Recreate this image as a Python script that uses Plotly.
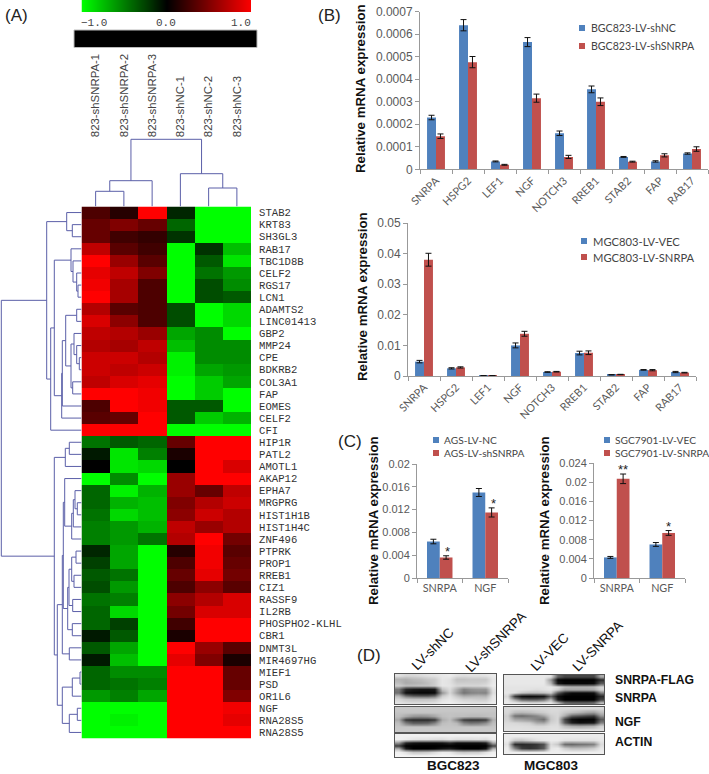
import plotly.graph_objects as go

W, H = 709, 774

# ---------- (A) heat map ----------
samples = ["823-shSNRPA-1", "823-shSNRPA-2", "823-shSNRPA-3", "823-shNC-1", "823-shNC-2", "823-shNC-3"]
genes = ["STAB2", "KRT83", "SH3GL3", "RAB17", "TBC1D8B", "CELF2", "RGS17", "LCN1", "ADAMTS2", "LINC01413",
         "GBP2", "MMP24", "CPE", "BDKRB2", "COL3A1", "FAP", "EOMES", "CELF2", "CFI", "HIP1R", "PATL2", "AMOTL1",
         "AKAP12", "EPHA7", "MRGPRG", "HIST1H1B", "HIST1H4C", "ZNF496", "PTPRK", "PROP1", "RREB1", "CIZ1",
         "RASSF9", "IL2RB", "PHOSPHO2-KLHL", "CBR1", "DNMT3L", "MIR4697HG", "MIEF1", "PSD", "OR1L6", "NGF",
         "RNA28S5", "RNA28S5"]
heat = [
    [.3, .15, 1, -.15, -1, -1], [.4, .5, .4, -.4, -1, -1], [.4, .25, .2, -.2, -1, -1],
    [.75, .35, .25, -1, -.2, -.75], [1, .6, .35, -1, -.35, -.9], [.9, .75, .5, -1, -.45, -.6],
    [.95, .65, .3, -1, -.3, -.55], [1, .65, .3, -1, -.3, -.35], [.7, .35, .3, -.3, -1, -.85],
    [.85, .55, .3, -.3, -1, -.85], [.75, .7, .6, -.65, -.55, -1], [.7, .65, .75, -.75, -.55, -.55],
    [.8, .8, .7, -.95, -.55, -.55], [.8, .75, .8, -.95, -.65, -.6], [.75, .85, .9, -1, -.8, -.65],
    [1, 1, .95, -1, -.8, -1], [.3, 1, .95, -.35, -.35, -1], [.35, .4, 1, -.35, -.8, -.7],
    [1, 1, 1, -1, -1, -1], [-.45, -.35, -.4, .4, 1, 1], [-.1, -.9, -.5, .1, 1, 1],
    [0, -.9, -.85, 0, 1, .85], [-1, -.55, -1, .6, 1, 1], [-.4, -.95, -.7, .6, .4, .75],
    [-.4, -.7, -.75, .5, .7, .8], [-.45, -.85, -.75, .55, .8, .7], [-.5, -.6, -.7, .75, .6, .7],
    [-.5, -.6, -.45, .7, 1, .45], [-.15, -.65, -1, .15, .95, .35], [-.25, -.65, -1, .3, .95, .4],
    [-.35, -.45, -1, .4, .9, .45], [-.3, -.6, -1, .3, .55, .35], [-.45, -.5, -1, .55, .7, .85],
    [-.4, -.85, -1, .45, .85, .85], [-.4, -.25, -1, .25, 1, 1], [-.1, -.35, -1, .1, 1, 1],
    [-.35, -.65, -1, 1, .6, .35], [-.1, -.75, -1, .9, .5, .1], [-.4, -.55, -.55, 1, 1, .4],
    [-.4, -.45, -.5, 1, 1, .4], [-.6, -.5, -.65, 1, 1, .5], [-1, -1, -1, 1, 1, .95],
    [-1, -.95, -1, 1, 1, .9], [-1, -1, -1, 1, 1, 1],
]
scale_values = [-1, -.75, -.5, -.25, 0, .25, .5, .75, 1]
gene_tree = (1.3,
    (46.7, (66.7, 0, (72.3, 1, 2)),
     (50.7, (54.3, (71, 3, (73, 4, (76.7, 5, (78, 6, 7)))),
             (61.7, (62.3, (65.7, (76.7, 8, 9),
                            (71, (74, 10, (76.7, 11, (79.3, 12, 13))), (72.7, 14, 15))), 16), 17)), 18)),
    (54.3, (65.3, (69.3, 19, 20), 21),
     (57.3, (62.3, (63.3, (64.7, 22, (71.7, (73.3, (75, 23, (77.3, 24, 25)), 26), 27)),
                    (67.7, (69, (71.7, (76, 28, 29), (74, 30, 31)), (72.7, 32, 33)), (72.3, 34, 35))),
             (69.3, 36, 37)),
      (62.3, (72.3, (80, 38, 39), 40), (69.3, (77.3, 41, 42), 43)))))
sample_tree = (139.3, (180.7, (191.3, 0, 1), 2), (173.7, 3, (188, 4, 5)))

# ---------- (B), (C) bars ----------
genes_b = ["SNRPA", "HSPG2", "LEF1", "NGF", "NOTCH3", "RREB1", "STAB2", "FAP", "RAB17"]
b1_nc = [.00023, .00064, .000035, .000565, .00016, .000355, .000055, .000035, .00007]
b1_nc_err = [.00001, .000025, .000002, .00002, .00001, .000015, .000002, .000003, .000003]
b1_sh = [.000147, .000476, .00002, .000316, .000055, .0003, .000034, .000062, .00009]
b1_sh_err = [.00001, .000025, .000002, .000018, .000007, .000017, .000002, .000007, .00001]
b2_vec = [.0047, .0025, .0001, .0100, .0013, .0075, .0004, .0020, .0013]
b2_vec_err = [.0004, .0002, .00005, .0008, .0001, .0006, .00005, .0001, .0002]
b2_sn = [.038, .0028, .0001, .0138, .0014, .0076, .0005, .0019, .0011]
b2_sn_err = [.0021, .0002, .00005, .0008, .0001, .0006, .00005, .0002, .0001]
genes_c = ["SNRPA", "NGF"]
c1_nc = [.0064, .015]; c1_nc_err = [.0004, .0007]
c1_sh = [.0036, .0115]; c1_sh_err = [.0003, .0008]
c2_vec = [.0043, .007]; c2_vec_err = [.0002, .0004]
c2_sn = [.0207, .0094]; c2_sn_err = [.001, .0005]
b1_ticks = ["0", "0.0001", "0.0002", "0.0003", "0.0004", "0.0005", "0.0006", "0.0007"]
b2_ticks = ["0", "0.01", "0.02", "0.03", "0.04", "0.05"]
c1_ticks = ["0", "0.004", "0.008", "0.012", "0.016", "0.02"]
c2_ticks = ["0", "0.004", "0.008", "0.012", "0.016", "0.02", "0.024"]

# ---------- (D) blot gray levels ----------
blot_bgc_snrpa = [
    [225, 215, 215, 220, 225, 228, 232, 236, 225, 222, 225, 225, 228, 235],
    [180, 175, 185, 190, 200, 205, 230, 225, 195, 195, 200, 200, 200, 230],
    [190, 170, 175, 180, 190, 205, 230, 225, 205, 205, 205, 205, 210, 232],
    [205, 190, 190, 195, 195, 205, 230, 228, 215, 215, 215, 215, 220, 235],
    [120, 40, 25, 20, 20, 25, 195, 220, 175, 130, 145, 150, 150, 225],
    [110, 15, 8, 5, 5, 10, 150, 215, 160, 115, 130, 135, 130, 220],
    [180, 110, 85, 80, 80, 100, 200, 225, 195, 170, 175, 180, 175, 230],
    [215, 200, 195, 195, 195, 200, 225, 232, 220, 210, 210, 205, 205, 232],
    [228, 222, 220, 220, 222, 225, 235, 238, 232, 228, 225, 225, 225, 238]]
blot_bgc_ngf = [
    [200, 200, 200, 200, 200, 200, 200, 200, 200, 200, 200, 200, 200, 200],
    [195, 195, 195, 195, 195, 195, 195, 195, 195, 195, 195, 195, 195, 195],
    [190, 170, 150, 145, 150, 165, 190, 195, 190, 190, 185, 185, 190, 195],
    [170, 55, 40, 40, 40, 55, 170, 190, 130, 60, 50, 50, 60, 175],
    [190, 130, 100, 100, 105, 135, 190, 195, 185, 135, 120, 125, 145, 190],
    [198, 198, 198, 198, 198, 198, 198, 198, 198, 198, 198, 198, 198, 198],
    [200, 200, 200, 200, 200, 200, 200, 200, 200, 200, 200, 200, 200, 200]]
blot_bgc_actin = [
    [240, 240, 240, 240, 240, 240, 240, 240, 240, 240, 240, 240, 240, 240],
    [240, 235, 228, 225, 225, 222, 220, 228, 222, 222, 222, 225, 220, 238],
    [150, 40, 20, 15, 15, 15, 20, 40, 15, 15, 15, 15, 30, 170],
    [60, 0, 0, 0, 0, 0, 0, 0, 0, 0, 0, 0, 0, 70],
    [180, 30, 0, 0, 0, 5, 20, 30, 10, 0, 0, 0, 20, 185],
    [240, 225, 200, 200, 205, 220, 235, 232, 210, 200, 205, 205, 225, 240],
    [245, 245, 245, 245, 245, 245, 245, 245, 245, 245, 245, 245, 245, 245]]
blot_mgc_snrpa = [
    [232, 232, 232, 232, 232, 232, 225, 100, 70, 70, 70, 70, 70, 170],
    [232, 232, 232, 232, 232, 232, 150, 5, 0, 0, 0, 0, 0, 40],
    [232, 232, 232, 232, 232, 232, 180, 20, 5, 5, 5, 5, 10, 90],
    [228, 228, 228, 228, 228, 228, 232, 220, 190, 180, 180, 180, 185, 215],
    [228, 228, 228, 225, 220, 225, 230, 205, 160, 165, 165, 165, 170, 210],
    [230, 225, 200, 190, 190, 195, 205, 90, 30, 10, 10, 10, 15, 130],
    [215, 60, 15, 10, 15, 20, 100, 15, 0, 0, 0, 0, 0, 40],
    [230, 170, 110, 100, 100, 120, 190, 30, 0, 0, 0, 0, 0, 70],
    [235, 232, 225, 220, 220, 225, 232, 185, 110, 100, 100, 100, 110, 190]]
blot_mgc_ngf = [
    [218, 218, 218, 218, 218, 218, 218, 218, 218, 218, 218, 218, 218, 218],
    [215, 190, 185, 190, 200, 205, 215, 215, 200, 190, 180, 165, 160, 190],
    [205, 115, 105, 120, 135, 165, 205, 215, 170, 100, 85, 70, 60, 150],
    [210, 165, 160, 150, 130, 110, 200, 215, 70, 15, 5, 5, 5, 90],
    [218, 215, 210, 205, 170, 165, 210, 218, 90, 30, 15, 20, 25, 130],
    [222, 222, 222, 220, 215, 215, 222, 222, 190, 175, 170, 175, 180, 210],
    [225, 225, 225, 225, 225, 225, 225, 225, 225, 225, 225, 225, 225, 225]]
blot_mgc_actin = [
    [235, 235, 235, 235, 235, 235, 235, 235, 235, 235, 235, 235, 235, 235],
    [235, 200, 195, 210, 225, 230, 235, 235, 225, 225, 225, 225, 225, 232],
    [225, 45, 40, 45, 55, 80, 220, 200, 110, 105, 115, 120, 130, 220],
    [235, 130, 60, 50, 60, 90, 230, 235, 205, 190, 190, 195, 205, 232],
    [238, 238, 238, 238, 238, 238, 238, 238, 238, 238, 238, 238, 238, 238]]

# ---------- helpers ----------
GREEN_RED = [[0, "rgb(0,255,0)"], [.5, "rgb(0,0,0)"], [1, "rgb(255,0,0)"]]
BLUE, RED = "#4f81bd", "#c0504d"
DENDRO = "#5b5fa8"
SANS = "Liberation Sans"
MONO = "Liberation Mono"
EXCEL = "Lato"
GRAY = "#595959"

fig = go.Figure()
layout = dict(template="none", width=W, height=H, autosize=False, margin=dict(l=0, r=0, t=0, b=0, pad=0),
              paper_bgcolor="white", plot_bgcolor="white", showlegend=False,
              shapes=[], annotations=[], bargroupgap=0)


def dx(a, b):
    return [a / W, b / W]


def dy(top, bottom):
    return [1 - bottom / H, 1 - top / H]


def ann(text, x, y, size, color="#222", family=SANS, bold=False, angle=0, xa="center", ya="middle"):
    layout["annotations"].append(dict(
        text=f"<b>{text}</b>" if bold else text, x=x / W, y=1 - y / H, xref="paper", yref="paper",
        showarrow=False, textangle=angle, xanchor=xa, yanchor=ya,
        font=dict(family=family, size=size, color=color)))


def key(x, y, color):
    layout["shapes"].append(dict(type="rect", xref="paper", yref="paper", x0=(x - 3) / W, x1=(x + 3) / W,
                                 y0=1 - (y + 3) / H, y1=1 - (y - 3) / H, fillcolor=color, line_width=0))


def tree_lines(node, leaf_depth):
    """Return (center, depth, segments) of a dendrogram node."""
    if isinstance(node, int):
        return node, leaf_depth, []
    depth, a, b = node
    ca, da, sa = tree_lines(a, leaf_depth)
    cb, db, sb = tree_lines(b, leaf_depth)
    seg = sa + sb + [((depth, ca), (da, ca)), ((depth, cb), (db, cb)), ((depth, ca), (depth, cb))]
    return (ca + cb) / 2, depth, seg


def seg_xy(segs, swap=False):
    xs, ys = [], []
    for p, q in segs:
        xs += [p[0], q[0], None]
        ys += [p[1], q[1], None]
    return (ys, xs) if swap else (xs, ys)


# heat map (x/y) ---------------------------------------------------------
fig.add_trace(go.Heatmap(z=heat, x=list(range(6)), y=list(range(len(genes))), zmin=-1, zmax=1,
                         colorscale=GREEN_RED, showscale=False, xaxis="x", yaxis="y"))
layout["xaxis"] = dict(domain=dx(81.5, 251), range=[-.5, 5.5], side="top", anchor="y",
                       tickvals=list(range(6)), ticktext=samples, tickangle=-90, ticks="outside",
                       ticklen=66, tickcolor="rgba(0,0,0,0)", showline=False, showgrid=False, zeroline=False,
                       tickfont=dict(family=SANS, size=11.4, color="#444"))
layout["yaxis"] = dict(domain=dy(206.5, 738.5), range=[43.5, -.5], side="right", anchor="x",
                       tickvals=list(range(len(genes))), ticktext=genes, ticks="outside", ticklen=5,
                       tickcolor="rgba(0,0,0,0)", showline=False, showgrid=False, zeroline=False,
                       tickfont=dict(family=MONO, size=10.6, color="#333"))

# colour key (x2/y2) -----------------------------------------------------
fig.add_trace(go.Heatmap(z=[scale_values], x=scale_values, y=[0], zmin=-1, zmax=1, zsmooth="best",
                         colorscale=GREEN_RED, showscale=False, xaxis="x2", yaxis="y2"))
layout["xaxis2"] = dict(domain=dx(81.5, 251), range=[-1, 1], visible=False, anchor="y2")
layout["yaxis2"] = dict(domain=dy(0, 12.5), range=[-.5, .5], visible=False, anchor="x2")
ann("\u22121.0", 94, 22.5, 11, family=MONO, color="#444")
ann("0.0", 166, 22.5, 11, family=MONO, color="#444")
ann("1.0", 241, 22.5, 11, family=MONO, color="#444")
layout["shapes"].append(dict(type="rect", xref="paper", yref="paper", x0=74 / W, x1=257 / W,
                             y0=1 - 47.5 / H, y1=1 - 30 / H, fillcolor="black", line=dict(color="#bbb", width=1)))

# dendrograms: gene tree (x3/y3, rows as on the heat map), sample tree (x14/y14) -------
_, _, gene_segs = tree_lines(gene_tree, 81.5)
gx, gy = seg_xy(gene_segs)
fig.add_trace(go.Scatter(x=gx, y=gy, mode="lines", line=dict(color=DENDRO, width=1), hoverinfo="skip",
                         cliponaxis=False, xaxis="x3", yaxis="y3"))
layout["xaxis3"] = dict(domain=dx(0, 81.5), range=[0, 81.5], visible=False, anchor="y3")
layout["yaxis3"] = dict(domain=dy(206.5, 738.5), range=[43.5, -.5], visible=False, anchor="x3")

_, _, samp_segs = tree_lines(sample_tree, 206.5)
sx, sy = seg_xy(samp_segs, swap=True)
fig.add_trace(go.Scatter(x=sx, y=sy, mode="lines", line=dict(color=DENDRO, width=1), hoverinfo="skip",
                         cliponaxis=False, xaxis="x14", yaxis="y14"))
layout["xaxis14"] = dict(domain=dx(81.5, 251), range=[-.5, 5.5], visible=False, anchor="y14")
layout["yaxis14"] = dict(domain=dy(130, 206.5), range=[206.5, 130], visible=False, anchor="x14")


# bar charts -------------------------------------------------------------
def bars(n, cats, v1, e1, v2, e2, ticks, xd, yd, tickangle, y_size):
    xa, ya = f"x{n}", f"y{n}"
    for v, e, c in ((v1, e1, BLUE), (v2, e2, RED)):
        fig.add_trace(go.Bar(x=cats, y=v, marker=dict(color=c, line_width=0), xaxis=xa, yaxis=ya,
                             error_y=dict(type="data", array=e, color="#111", thickness=1, width=3)))
    vals = [float(t) for t in ticks]
    layout[f"xaxis{n}"] = dict(domain=dx(*xd), anchor=ya, type="category", tickson="boundaries", ticks="outside",
                               ticklen=4, tickcolor="#999", linecolor="#999", linewidth=1, showline=True,
                               showgrid=False, zeroline=False, tickangle=tickangle,
                               tickfont=dict(family=EXCEL, size=10.8, color=GRAY))
    layout[f"yaxis{n}"] = dict(domain=dy(*yd), anchor=xa, range=[0, vals[-1]], tickvals=vals, ticktext=ticks,
                               ticks="outside", ticklen=4, tickcolor="#999", linecolor="#999", linewidth=1,
                               showline=True, showgrid=False, zeroline=False,
                               tickfont=dict(family=SANS, size=y_size, color=GRAY))


bars(4, genes_b, b1_nc, b1_nc_err, b1_sh, b1_sh_err, b1_ticks, (420, 708), (11.7, 169.3), -45, 12)
bars(5, genes_b, b2_vec, b2_vec_err, b2_sn, b2_sn_err, b2_ticks, (408, 696), (223, 376), -45, 12)
bars(6, genes_c, c1_nc, c1_nc_err, c1_sh, c1_sh_err, c1_ticks, (417, 508), (464, 578), 0, 11)
bars(7, genes_c, c2_vec, c2_vec_err, c2_sn, c2_sn_err, c2_ticks, (594, 685), (463, 578), 0, 11)
layout["bargap"] = .44

ylabel = "Relative mRNA expression"
ann(ylabel, 360, 89, 13.3, color="#111", bold=True, angle=-90)
ann(ylabel, 362, 297, 13.3, color="#111", bold=True, angle=-90)
ann(ylabel, 373, 520, 13.3, color="#111", bold=True, angle=-90)
ann(ylabel, 544, 521, 13.3, color="#111", bold=True, angle=-90)

# legend keys and text
for x_key, x_txt, y0, name, col, sz in [
    (582, 589, 28, "BGC823-LV-shNC", BLUE, 10.6), (582, 589, 46, "BGC823-LV-shSNRPA", RED, 10.6),
    (584, 591, 241, "MGC803-LV-VEC", BLUE, 11.2), (584, 591, 257, "MGC803-LV-SNRPA", RED, 11.2),
    (436, 442, 440, "AGS-LV-NC", BLUE, 10.2), (436, 442, 453, "AGS-LV-shSNRPA", RED, 10.2),
    (607, 613, 440, "SGC7901-LV-VEC", BLUE, 10.2), (607, 613, 453, "SGC7901-LV-SNRPA", RED, 10.2),
]:
    key(x_key, y0, col)
    ann(name, x_txt, y0, sz, color="#444", family=EXCEL, xa="left")

for sx_, sy_, star in [(447, 551, "*"), (493, 503, "*"), (623, 469, "**"), (668, 526, "*")]:
    ann(star, sx_, sy_, 13, color="#222")

for txt, x_, y_ in [("(A)", 16, 16), ("(B)", 329, 16), ("(C)", 350, 441), ("(D)", 369, 655)]:
    ann(txt, x_, y_, 17, color="#222")

# blots ------------------------------------------------------------------
blots = [
    (blot_bgc_snrpa, (395, 496), (674, 704)), (blot_bgc_ngf, (395, 496), (707, 732)),
    (blot_bgc_actin, (395, 496), (734, 757)), (blot_mgc_snrpa, (504, 604), (675, 704)),
    (blot_mgc_ngf, (504, 604), (707, 731)), (blot_mgc_actin, (504, 604), (734, 754)),
]
for i, (z, xd, yd) in enumerate(blots):
    n = 8 + i
    fig.add_trace(go.Heatmap(z=z, zmin=0, zmax=255, zsmooth="best", showscale=False,
                             colorscale=[[0, "rgb(0,0,0)"], [1, "rgb(255,255,255)"]], xaxis=f"x{n}", yaxis=f"y{n}"))
    frame = dict(showticklabels=False, ticks="", showline=True, mirror=True, linecolor="#555", linewidth=1.2,
                 showgrid=False, zeroline=False)
    layout[f"xaxis{n}"] = dict(domain=dx(*xd), anchor=f"y{n}", **frame)
    layout[f"yaxis{n}"] = dict(domain=dy(*yd), anchor=f"x{n}", autorange="reversed", **frame)

for txt, x_, y_ in [("LV-shNC", 432, 649), ("LV-shSNRPA", 495, 642), ("LV-VEC", 549, 652), ("LV-SNRPA", 597, 646)]:
    ann(txt, x_, y_, 13.5, color="#111", angle=-45)
for txt, y_ in [("SNRPA-FLAG", 680), ("SNRPA", 698), ("NGF", 722), ("ACTIN", 742)]:
    ann(txt, 613, y_, 12.2, color="#111", bold=True, xa="left")
ann("BGC823", 453, 765.5, 13.5, color="#111", bold=True)
ann("MGC803", 551, 765.5, 13.5, color="#111", bold=True)

fig.update_layout(**layout)
fig.write_html("out.html", config={"displayModeBar": False},
               post_script="document.body.style.margin='0';")
